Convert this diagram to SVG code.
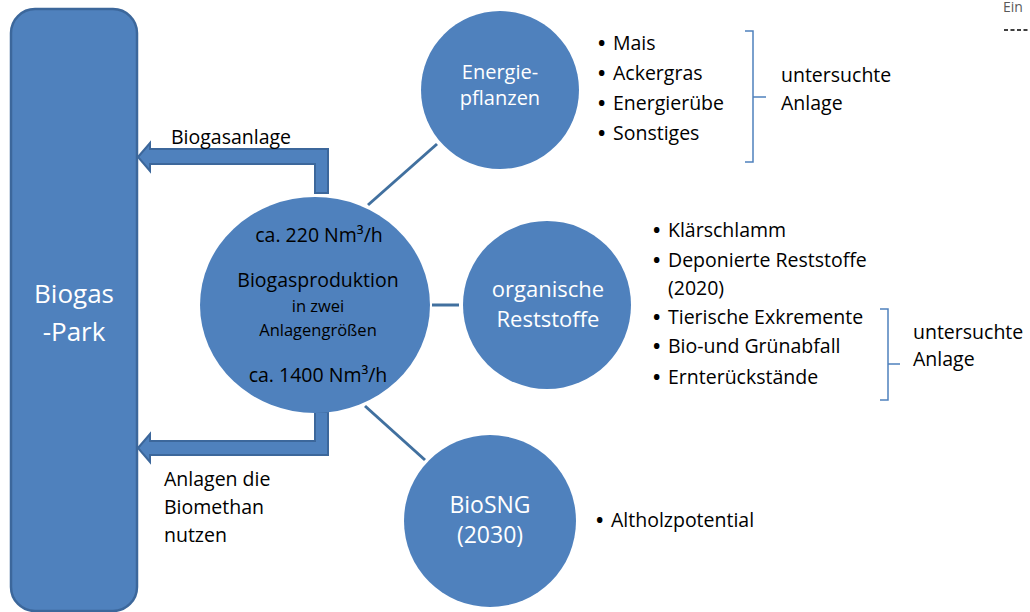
<svg xmlns="http://www.w3.org/2000/svg" width="1030" height="612" viewBox="0 0 1030 612">
<style>
.node{fill:#4f81bd}
.park{fill:#4f81bd;stroke:#3c679b;stroke-width:2.5}
.arrow{fill:#4f81bd;stroke:#3c679b;stroke-width:2;stroke-linejoin:miter}
.conn{stroke:#41709f;stroke-width:3;fill:none}
.brace{stroke:#4f81bd;stroke-width:1.5;fill:none}
text{font-family:"Open Sans","Liberation Sans",sans-serif}
.w{fill:#ffffff}
.k{fill:#000000;font-size:19.5px}
.c{text-anchor:middle}
.b{font-weight:700}
</style>
<rect width="1030" height="612" fill="#ffffff"/>
<g id="connectors">
<line class="conn" x1="368" y1="205" x2="437" y2="144"/>
<line class="conn" x1="432" y1="305" x2="459" y2="305"/>
<line class="conn" x1="365" y1="406" x2="425" y2="460"/>
<polygon id="arrow-biogasanlage" class="arrow" points="138,157 150,143 150,149 328,149 328,193 315,193 315,164 150,164 150,171"/>
<polygon id="arrow-biomethan" class="arrow" points="138,448 150,434 150,441 315,441 315,412 328,412 328,455 150,455 150,462"/>
</g>
<g id="biogas-park">
<rect class="park" x="11" y="9" width="126" height="602" rx="24" ry="24"/>
<text class="w c" x="74" y="303" font-size="26">Biogas</text>
<text class="w c" x="74" y="341" font-size="26">-Park</text>
</g>
<g id="label-biogasanlage">
<text class="k" x="171" y="144">Biogasanlage</text>
</g>
<g id="label-biomethan">
<text class="k" x="164" y="486">Anlagen die</text>
<text class="k" x="164" y="514">Biomethan</text>
<text class="k" x="164" y="542">nutzen</text>
</g>
<g id="biogasproduktion">
<ellipse class="node" cx="315" cy="305" rx="115" ry="108"/>
<text class="k c" x="319" y="242">ca. 220 Nm³/h</text>
<text class="k c" x="318" y="287">Biogasproduktion</text>
<text class="k c" x="318" y="312" style="font-size:16.5px">in zwei</text>
<text class="k c" x="318" y="336" style="font-size:16.5px">Anlagengrößen</text>
<text class="k c" x="318" y="382">ca. 1400 Nm³/h</text>
</g>
<g id="energiepflanzen">
<circle class="node" cx="500" cy="90" r="79"/>
<text class="w c" x="500" y="79" font-size="20">Energie-</text>
<text class="w c" x="500" y="105" font-size="20">pflanzen</text>
</g>
<g id="organische-reststoffe">
<circle class="node" cx="547" cy="305" r="84"/>
<text class="w c" x="548" y="297" font-size="22">organische</text>
<text class="w c" x="548" y="327" font-size="22">Reststoffe</text>
</g>
<g id="biosng">
<circle class="node" cx="490" cy="521" r="86"/>
<text class="w c" x="490" y="513" font-size="23">BioSNG</text>
<text class="w c" x="490" y="543" font-size="23">(2030)</text>
</g>
<g id="list-energiepflanzen">
<text class="k" y="50"><tspan class="b" x="598">•</tspan><tspan x="613">Mais</tspan></text>
<text class="k" y="80"><tspan class="b" x="598">•</tspan><tspan x="613">Ackergras</tspan></text>
<text class="k" y="110"><tspan class="b" x="598">•</tspan><tspan x="613">Energierübe</tspan></text>
<text class="k" y="140"><tspan class="b" x="598">•</tspan><tspan x="613">Sonstiges</tspan></text>
<path class="brace" d="M745,31 H753 V97 H766 M753,97 V162 H745"/>
<text class="k" x="781" y="82">untersuchte</text>
<text class="k" x="781" y="110">Anlage</text>
</g>
<g id="list-reststoffe">
<text class="k" y="237"><tspan class="b" x="653">•</tspan><tspan x="668">Klärschlamm</tspan></text>
<text class="k" y="267"><tspan class="b" x="653">•</tspan><tspan x="668">Deponierte Reststoffe</tspan></text>
<text class="k" x="668" y="295">(2020)</text>
<text class="k" y="324"><tspan class="b" x="653">•</tspan><tspan x="668">Tierische Exkremente</tspan></text>
<text class="k" y="353"><tspan class="b" x="653">•</tspan><tspan x="668">Bio-und Grünabfall</tspan></text>
<text class="k" y="384"><tspan class="b" x="653">•</tspan><tspan x="668">Ernterückstände</tspan></text>
<path class="brace" d="M880,309 H888 V364 H900 M888,364 V400 H880"/>
<text class="k" x="913" y="339">untersuchte</text>
<text class="k" x="913" y="366">Anlage</text>
</g>
<g id="list-biosng">
<text class="k" y="527"><tspan class="b" x="596">•</tspan><tspan x="611">Altholzpotential</tspan></text>
</g>
<g id="corner">
<text x="1003" y="12" font-size="14" fill="#595959">Ein</text>
<line x1="1004" y1="30" x2="1028" y2="30" stroke="#000" stroke-width="1.5" stroke-dasharray="4,2.5"/>
</g>
</svg>
